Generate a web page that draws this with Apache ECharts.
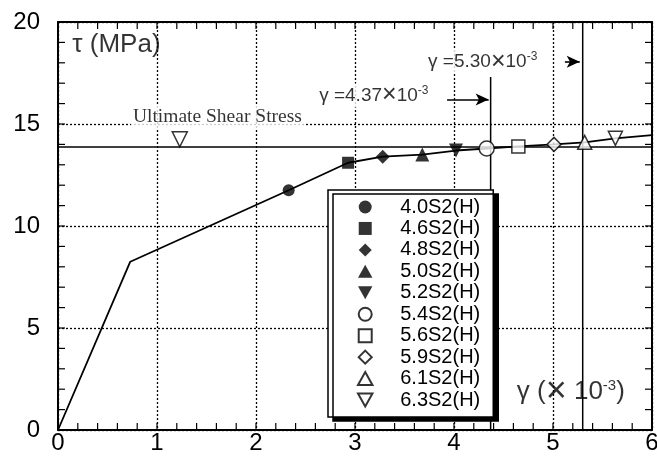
<!DOCTYPE html>
<html><head><meta charset="utf-8">
<script src="https://cdn.jsdelivr.net/npm/echarts@6/dist/echarts.min.js"></script>
<style>html,body{margin:0;padding:0;background:#fff}#c{width:657px;height:464px}</style>
</head><body><div id="c"></div>
<script>
// ---- data ----
const curveX = [0, 0.73, 2.33, 2.93, 3.28, 3.68, 4.02, 4.33, 4.65, 5.01, 5.32, 5.63, 6.0];
const curveY = [0, 8.25, 11.75, 13.1, 13.4, 13.5, 13.7, 13.8, 13.9, 14.0, 14.1, 14.3, 14.45];
const specimenNames = ['4.0S2(H)', '4.6S2(H)', '4.8S2(H)', '5.0S2(H)', '5.2S2(H)', '5.4S2(H)', '5.6S2(H)', '5.9S2(H)', '6.1S2(H)', '6.3S2(H)'];
const specimenX = [2.33, 2.93, 3.28, 3.68, 4.02, 4.33, 4.65, 5.01, 5.32, 5.63];
const specimenY = [11.75, 13.1, 13.4, 13.5, 13.7, 13.8, 13.9, 14.0, 14.1, 14.3];
const ultimateStress = 13.87;
const ultimateMarker = [1.23, 14.25];
const gammaLimits = [4.37, 5.30];
const gammaLimitTops = [17.3, 20];
const xTickLabels = ['0', '1', '2', '3', '4', '5', '6'];
const yTickLabels = ['0', '5', '10', '15', '20'];
const xTickValues = [0, 0.2, 0.4, 0.6, 0.8, 1, 1.2, 1.4, 1.6, 1.8, 2, 2.2, 2.4, 2.6, 2.8, 3,
  3.2, 3.4, 3.6, 3.8, 4, 4.2, 4.4, 4.6, 4.8, 5, 5.2, 5.4, 5.6, 5.8, 6];
const yTickValues = [0, 1, 2, 3, 4, 5, 6, 7, 8, 9, 10, 11, 12, 13, 14, 15, 16, 17, 18, 19, 20];

// ---- styles ----
const SANS = 'Liberation Sans, Arial, sans-serif';
const SERIF = 'Liberation Serif, Times New Roman, serif';
const X_MIN = 0, X_MAX = 6, Y_MIN = 0, Y_MAX = 20;
const P = {
  sq: 'path://M0,0H10V10H0Z',
  dia: 'path://M5,0L10,5L5,10L0,5Z',
  up: 'path://M5,0L10,9L0,9Z',
  down: 'path://M0,0L10,0L5,9Z'
};
const markerStyles = [
  {symbol: 'circle', size: 12, open: false},
  {symbol: P.sq, size: 12, open: false},
  {symbol: P.dia, size: 14, open: false},
  {symbol: P.up, size: 14, open: false},
  {symbol: P.down, size: 14, open: false},
  {symbol: 'circle', size: 15, open: true},
  {symbol: P.sq, size: 13, open: true},
  {symbol: P.dia, size: 14, open: true},
  {symbol: P.up, size: 14, open: true},
  {symbol: P.down, size: 14, open: true}
];
function itemStyleOf(open) {
  return open ? {color: '#fff', borderColor: '#000', borderWidth: 1.5}
              : {color: '#000', borderColor: '#000', borderWidth: 0};
}
function tickText(list, v) {
  const s = String(v);
  return list.indexOf(s) >= 0 ? s : '';
}

const chart = echarts.init(document.getElementById('c'));

function axisBase(extra) {
  return Object.assign({
    type: 'value',
    axisLine: {show: true, onZero: false, lineStyle: {color: '#000', width: 2}},
    axisTick: {show: false},
    minorTick: {show: false}
  }, extra);
}

const series = [];
series.push({
  type: 'line', data: curveX.map((x, i) => [x, curveY[i]]), symbol: 'none',
  lineStyle: {color: '#000', width: 1.8}, z: 3, silent: true
});
series.push({
  type: 'line', data: [[X_MIN, ultimateStress], [X_MAX, ultimateStress]], symbol: 'none',
  lineStyle: {color: '#000', width: 1.6}, z: 3, silent: true
});
series.push({
  type: 'line', data: [[gammaLimits[0], gammaLimitTops[0]], [gammaLimits[0], Y_MIN]], symbol: 'none',
  lineStyle: {color: '#000', width: 1.5}, z: 3, silent: true,
  markLine: {
    silent: true, symbol: ['none', 'arrow'], symbolSize: [9, 13],
    lineStyle: {color: '#000', type: 'solid', width: 1.6}, label: {show: false},
    data: [
      [{coord: [3.93, 16.2]}, {coord: [4.35, 16.2]}],
      [{coord: [5.12, 18.05]}, {coord: [5.27, 18.05]}]
    ]
  }
});
series.push({
  type: 'line', data: [[gammaLimits[1], gammaLimitTops[1]], [gammaLimits[1], Y_MIN]], symbol: 'none',
  lineStyle: {color: '#000', width: 1.5}, z: 3, silent: true
});
specimenNames.forEach((name, i) => {
  const m = markerStyles[i];
  series.push({
    type: 'scatter', name: name, data: [[specimenX[i], specimenY[i]]],
    symbol: m.symbol, symbolSize: m.size, itemStyle: itemStyleOf(m.open), z: 5, silent: true
  });
});
series.push({
  type: 'scatter', data: [ultimateMarker], symbol: P.down, symbolSize: 15,
  itemStyle: itemStyleOf(true), z: 5, silent: true
});

// inward ticks on all four frame sides, placed through the axis scales
function tickSeries(values, dir) {
  const L = 7;
  const st = () => ({stroke: '#000', lineWidth: 1.2});
  return {
    type: 'custom', silent: true, z: 3, clip: false,
    data: values.map(v => dir === 'x' ? [v, Y_MIN] : [X_MIN, v]),
    renderItem: (params, api) => {
      if (dir === 'x') {
        const v = api.value(0);
        const b = api.coord([v, Y_MIN]), t = api.coord([v, Y_MAX]);
        return {type: 'group', children: [
          {type: 'line', shape: {x1: b[0], y1: b[1], x2: b[0], y2: b[1] - L}, style: st()},
          {type: 'line', shape: {x1: t[0], y1: t[1], x2: t[0], y2: t[1] + L}, style: st()}
        ]};
      }
      const v = api.value(1);
      const l = api.coord([X_MIN, v]), r = api.coord([X_MAX, v]);
      return {type: 'group', children: [
        {type: 'line', shape: {x1: l[0], y1: l[1], x2: l[0] + L, y2: l[1]}, style: st()},
        {type: 'line', shape: {x1: r[0], y1: r[1], x2: r[0] - L, y2: r[1]}, style: st()}
      ]};
    }
  };
}
series.push(tickSeries(xTickValues, 'x'));
series.push(tickSeries(yTickValues, 'y'));

function textSeries(pos, fmt, rich, bg) {
  return {
    type: 'scatter', data: [pos], symbol: 'circle', symbolSize: 1,
    itemStyle: {color: 'rgba(0,0,0,0)'}, silent: true, z: 4,
    label: {show: true, position: 'inside', formatter: () => fmt, rich: rich,
            backgroundColor: bg || 'transparent', padding: bg ? [1, 2] : [0, 0]}
  };
}
const supRich = (fs, xfs, sfs, lh) => ({
  t: {fontSize: fs, fontFamily: SANS, color: '#000', lineHeight: lh},
  x: {fontSize: xfs, fontFamily: SANS, color: '#000', lineHeight: lh},
  s: {fontSize: sfs, fontFamily: SANS, color: '#000', verticalAlign: 'top', lineHeight: lh}
});
series.push(textSeries([3.19, 16.4], '{t|γ =4.37}{x|×}{t|10}{s|-3}', supRich(19, 25, 12, 22), '#fff'));
series.push(textSeries([4.29, 18.05], '{t|γ =5.30}{x|×}{t|10}{s|-3}', supRich(19, 25, 12, 22), '#fff'));
series.push(textSeries([1.61, 15.34], '{u|Ultimate Shear Stress}',
  {u: {fontSize: 19.5, fontFamily: SERIF, color: '#000'}}, '#fff'));
series.push(textSeries([0.59, 18.87], '{t|τ (MPa)}',
  {t: {fontSize: 26, fontFamily: SANS, color: '#000'}}));
series.push(textSeries([5.18, 1.86], '{t|γ (}{x|×}{t| 10}{s|-3}{t|)}', supRich(26, 36, 15, 28)));

chart.setOption({
  backgroundColor: '#fff',
  animation: false,
  grid: {left: 58, right: 5, top: 22, bottom: 34, containLabel: false, outerBoundsMode: 'none'},
  xAxis: [
    axisBase({
      min: X_MIN, max: X_MAX, interval: 1, position: 'bottom',
      splitLine: {show: true, lineStyle: {color: '#000', type: [2, 2], width: 1.3}},
      axisLabel: {show: true, fontSize: 24, fontFamily: SANS, color: '#000', margin: 1,
                  formatter: v => tickText(xTickLabels, v)}
    }),
    axisBase({
      min: X_MIN, max: X_MAX, interval: 1, position: 'top',
      splitLine: {show: false}, axisLabel: {show: false}
    })
  ],
  yAxis: [
    axisBase({
      min: Y_MIN, max: Y_MAX, interval: 5, position: 'left',
      splitLine: {show: true, lineStyle: {color: '#000', type: [2, 2], width: 1.3}},
      axisLabel: {show: true, fontSize: 24, fontFamily: SANS, color: '#000', margin: 18,
                  formatter: v => tickText(yTickLabels, v)}
    }),
    axisBase({
      min: Y_MIN, max: Y_MAX, interval: 5, position: 'right',
      splitLine: {show: false}, axisLabel: {show: false}
    })
  ],
  legend: {
    show: true, data: specimenNames, orient: 'vertical',
    left: 328, top: 190, padding: [7, 13, 7, 29],
    itemWidth: 60, itemHeight: 13, itemGap: 1.45,
    backgroundColor: '#fff', borderColor: '#000', borderWidth: 1.5,
    shadowColor: '#000', shadowBlur: 0, shadowOffsetX: 5, shadowOffsetY: 4,
    textStyle: {fontSize: 20, fontFamily: SANS, color: '#000', lineHeight: 20},
    selectedMode: false, z: 6
  },
  series: series
});
</script>
</body></html>
